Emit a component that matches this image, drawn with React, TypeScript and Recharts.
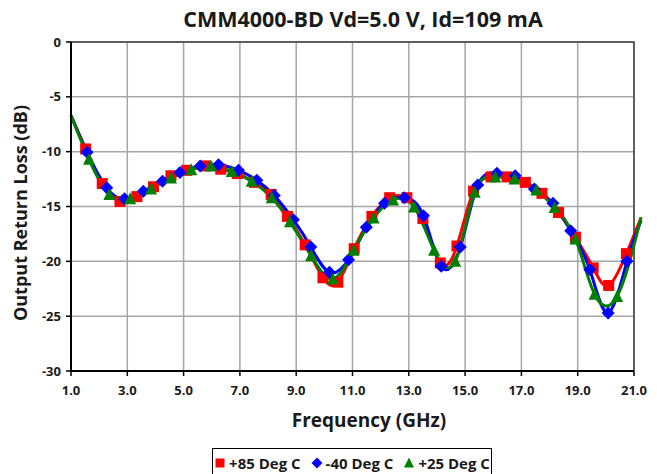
import React from 'react'
import { LineChart, Line, XAxis, YAxis, CartesianGrid, ReferenceArea } from 'recharts'

const TITLE = 'CMM4000-BD Vd=5.0 V, Id=109 mA'
const X_TICKS = [1, 3, 5, 7, 9, 11, 13, 15, 17, 19, 21]
const Y_TICKS = [-30, -25, -20, -15, -10, -5, 0]

// +85 Deg C (first and last points carry no marker)
const HOT_FREQ = [1.0, 1.52, 2.11, 2.74, 3.34, 3.93, 4.55, 5.11, 5.76, 6.32, 6.91, 7.52, 8.11, 8.69, 9.32, 9.95, 10.48, 11.06, 11.69, 12.32, 12.93, 13.5, 14.12, 14.71, 15.3, 15.92, 16.49, 17.14, 17.73, 18.32, 18.92, 19.55, 20.1, 20.73, 21.25]
const HOT_LOSS = [-6.7, -9.75, -12.9, -14.55, -14.1, -13.2, -12.2, -11.7, -11.3, -11.6, -12.0, -12.8, -13.9, -15.9, -18.5, -21.5, -21.9, -18.85, -15.9, -14.2, -14.2, -16.1, -20.15, -18.6, -13.6, -12.3, -12.3, -12.8, -13.8, -15.55, -17.8, -20.6, -22.2, -19.3, -16.0]

// -40 Deg C
const COLD_FREQ = [1.0, 1.57, 2.27, 2.9, 3.57, 4.25, 4.87, 5.59, 6.24, 6.95, 7.6, 8.22, 8.9, 9.52, 10.18, 10.86, 11.49, 12.14, 12.84, 13.52, 14.15, 14.83, 15.45, 16.13, 16.78, 17.46, 18.12, 18.75, 19.43, 20.08, 20.75, 21.25]
const COLD_LOSS = [-6.7, -10.05, -13.3, -14.3, -13.6, -12.7, -11.9, -11.3, -11.2, -11.7, -12.6, -14.0, -16.2, -18.7, -21.0, -19.85, -16.9, -14.7, -14.2, -15.85, -20.45, -18.7, -13.05, -11.96, -12.2, -13.4, -14.7, -17.2, -20.75, -24.7, -20.0, -16.3]

// +25 Deg C
const ROOM_FREQ = [1.0, 1.64, 2.36, 3.1, 3.84, 4.55, 5.27, 5.97, 6.71, 7.42, 8.13, 8.78, 9.53, 10.3, 11.04, 11.75, 12.44, 13.19, 13.9, 14.65, 15.34, 16.07, 16.75, 17.53, 18.18, 18.92, 19.6, 20.4, 21.25]
const ROOM_LOSS = [-6.7, -10.7, -13.9, -14.3, -13.4, -12.4, -11.66, -11.3, -11.8, -12.7, -14.2, -16.4, -19.5, -21.6, -19.0, -16.05, -14.4, -15.05, -19.0, -20.0, -13.7, -12.3, -12.5, -13.5, -15.1, -17.96, -23.0, -23.2, -16.0]

const FONT = '"Open Sans", Arial, sans-serif'

type Shape = 'square' | 'diamond' | 'triangle'

const toPoints = (freq: number[], loss: number[]) => freq.map((f, i) => ({ freq: f, loss: loss[i] }))

const SERIES: { name: string; color: string; shape: Shape; data: { freq: number; loss: number }[] }[] = [
  { name: '+85 Deg C', color: '#ff0000', shape: 'square', data: toPoints(HOT_FREQ, HOT_LOSS) },
  { name: '-40 Deg C', color: '#0000ff', shape: 'diamond', data: toPoints(COLD_FREQ, COLD_LOSS) },
  { name: '+25 Deg C', color: '#008000', shape: 'triangle', data: toPoints(ROOM_FREQ, ROOM_LOSS) },
]

function Marker({ shape, cx, cy, color, r = 5.5 }: { shape: Shape; cx: number; cy: number; color: string; r?: number }) {
  if (shape === 'square') {
    return <rect x={cx - r} y={cy - r} width={r * 2} height={r * 2} fill={color} />
  }
  if (shape === 'diamond') {
    const d = r + 1
    return <polygon points={`${cx},${cy - d} ${cx + d},${cy} ${cx},${cy + d} ${cx - d},${cy}`} fill={color} />
  }
  return <polygon points={`${cx},${cy - r - 1} ${cx + r + 0.5},${cy + r} ${cx - r - 0.5},${cy + r}`} fill={color} />
}

const makeDot = (shape: Shape, color: string, count: number) => (props: any) => {
  const { cx, cy, index } = props
  if (cx == null || cy == null || index === 0 || index === count - 1) return <g key={`dot-${index}`} />
  return (
    <g key={`dot-${index}`}>
      <Marker shape={shape} cx={cx} cy={cy} color={color} />
    </g>
  )
}

function LegendIcon({ shape, color }: { shape: Shape; color: string }) {
  return (
    <svg width={12} height={12} style={{ display: 'block' }}>
      <Marker shape={shape} cx={6} cy={6} color={color} r={4.5} />
    </svg>
  )
}

export default function App() {
  return (
    <div style={{ position: 'relative', width: 657, height: 474, background: '#fff', fontFamily: FONT, overflow: 'hidden' }}>
      <style>{'body{margin:0}.recharts-line,.recharts-line *,.recharts-wrapper [clip-path]{clip-path:none !important}'}</style>
      <div
        style={{
          position: 'absolute',
          left: 63,
          top: 4,
          width: 600,
          textAlign: 'center',
          fontSize: 21.5,
          fontWeight: 700,
          color: '#1a1a1a',
          lineHeight: '30px',
          whiteSpace: 'nowrap',
        }}
      >
        {TITLE}
      </div>
      <LineChart width={657} height={474} margin={{ top: 42, right: 23, bottom: 73, left: 0 }}>
        <CartesianGrid stroke="#a6a6a6" strokeWidth={1.5} />
        <ReferenceArea x1={1} x2={21} y1={-30} y2={0} fill="none" stroke="#404040" strokeWidth={1.5} />
        <XAxis
          type="number"
          dataKey="freq"
          domain={[1, 21]}
          ticks={X_TICKS}
          allowDataOverflow
          tickFormatter={(v: number) => v.toFixed(1)}
          height={30}
          tickSize={5}
          tickMargin={10}
          stroke="#000"
          axisLine={{ stroke: '#000', strokeWidth: 2 }}
          tickLine={{ stroke: '#000', strokeWidth: 1.5 }}
          tick={{ fill: '#1a1a1a', fontSize: 13, fontWeight: 700, fontFamily: FONT }}
          label={{
            content: () => (
              <text x={369} y={427} textAnchor="middle" fontSize={19} fontWeight={700} fill="#1a1a1a" fontFamily={FONT}>
                Frequency (GHz)
              </text>
            ),
          }}
        />
        <YAxis
          type="number"
          domain={[-30, 0]}
          ticks={Y_TICKS}
          width={71}
          tickSize={5}
          tickMargin={5}
          axisLine={{ stroke: '#000', strokeWidth: 2 }}
          tickLine={{ stroke: '#000', strokeWidth: 1.5 }}
          tick={{ fill: '#1a1a1a', fontSize: 13, fontWeight: 700, fontFamily: FONT }}
          label={{
            content: () => (
              <text
                x={20}
                y={213}
                transform="rotate(-90 20 213)"
                textAnchor="middle"
                dominantBaseline="central"
                fontSize={18}
                fontWeight={700}
                fill="#1a1a1a"
                fontFamily={FONT}
              >
                Output Return Loss (dB)
              </text>
            ),
          }}
        />
        {SERIES.map((s) => (
          <Line
            key={s.name}
            name={s.name}
            data={s.data}
            dataKey="loss"
            type="natural"
            stroke={s.color}
            strokeWidth={3}
            dot={makeDot(s.shape, s.color, s.data.length)}
            activeDot={false}
            isAnimationActive={false}
          />
        ))}
      </LineChart>
      <div
        style={{
          position: 'absolute',
          left: 212,
          top: 448,
          width: 280,
          height: 30,
          border: '1px solid #000',
          boxSizing: 'border-box',
          display: 'flex',
          alignItems: 'center',
          justifyContent: 'center',
          gap: 10,
          fontSize: 15,
          fontWeight: 700,
          color: '#1a1a1a',
          whiteSpace: 'nowrap',
        }}
      >
        {SERIES.map((s) => (
          <div key={s.name} style={{ display: 'flex', alignItems: 'center', gap: 3 }}>
            <LegendIcon shape={s.shape} color={s.color} />
            <span>{s.name}</span>
          </div>
        ))}
      </div>
    </div>
  )
}
